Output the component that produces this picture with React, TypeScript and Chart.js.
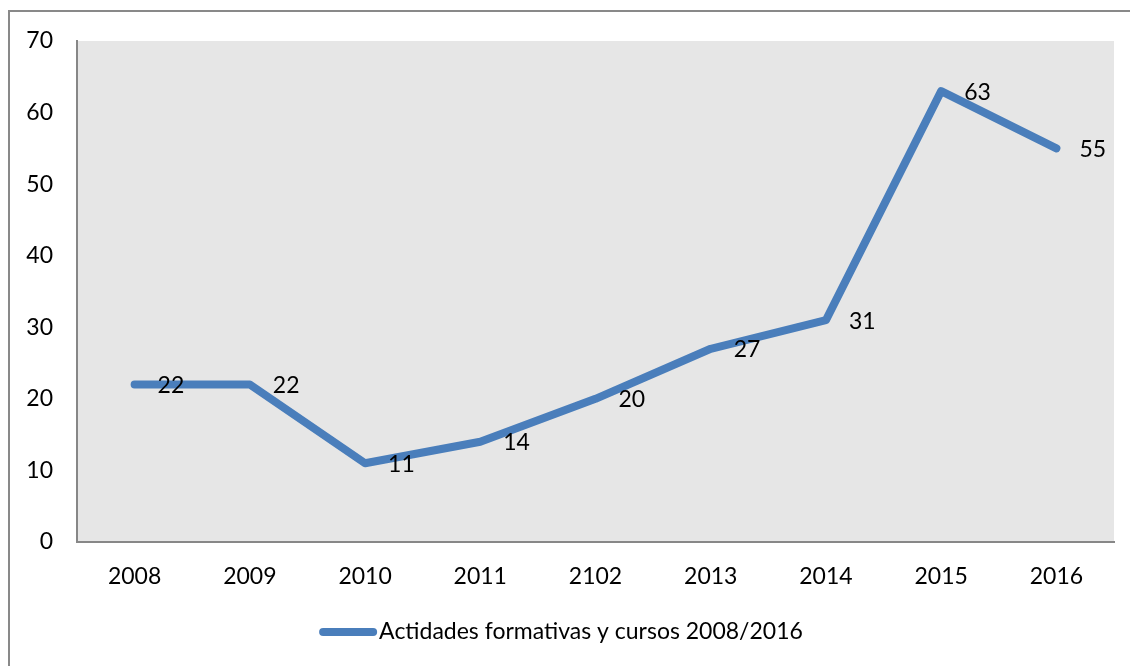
import React, { useEffect, useRef } from "react";
import { Chart, registerables } from "chart.js";

Chart.register(...registerables);

const categories = ["2008", "2009", "2010", "2011", "2102", "2013", "2014", "2015", "2016"];
const values = [22, 22, 11, 14, 20, 27, 31, 63, 55];
const seriesName = "Actidades formativas y cursos 2008/2016";

const FONT = "Lato";
const FONT_SIZE = 23;
const LINE_COLOR = "#4a7ebb";

const bgPlugin = {
  id: "plotBg",
  beforeDraw(chart: any) {
    const { ctx, chartArea } = chart;
    ctx.save();
    ctx.fillStyle = "#e6e6e6";
    ctx.fillRect(chartArea.left, chartArea.top, chartArea.right - chartArea.left, chartArea.bottom - chartArea.top);
    ctx.restore();
  },
};

const labelPlugin = {
  id: "valueLabels",
  afterDatasetsDraw(chart: any) {
    const { ctx } = chart;
    const meta = chart.getDatasetMeta(0);
    ctx.save();
    ctx.font = `${FONT_SIZE}px ${FONT}`;
    ctx.fillStyle = "#000";
    ctx.textAlign = "left";
    ctx.textBaseline = "middle";
    meta.data.forEach((pt: any, i: number) => {
      ctx.fillText(String(values[i]), pt.x + 23, pt.y + 1);
    });
    ctx.restore();
  },
};

const legendPlugin = {
  id: "customLegend",
  afterDraw(chart: any) {
    const { ctx } = chart;
    ctx.save();
    ctx.font = `${FONT_SIZE}px ${FONT}`;
    const tw = ctx.measureText(seriesName).width;
    const lineLen = 58;
    const gap = 2;
    const total = lineLen + gap + tw;
    const startX = (chart.width - total) / 2 - 4;
    const y = 632;
    ctx.strokeStyle = LINE_COLOR;
    ctx.lineWidth = 8;
    ctx.lineCap = "round";
    ctx.beginPath();
    ctx.moveTo(startX + 4, y);
    ctx.lineTo(startX + lineLen - 4, y);
    ctx.stroke();
    ctx.fillStyle = "#000";
    ctx.textAlign = "left";
    ctx.textBaseline = "middle";
    ctx.fillText(seriesName, startX + lineLen + gap, y);
    ctx.restore();
  },
};

export default function App() {
  const ref = useRef<HTMLCanvasElement | null>(null);

  useEffect(() => {
    document.body.style.overflow = "hidden";
    if (!ref.current) return;
    const chart = new Chart(ref.current, {
      type: "line",
      data: {
        labels: categories,
        datasets: [
          {
            label: seriesName,
            data: values,
            borderColor: LINE_COLOR,
            backgroundColor: LINE_COLOR,
            borderWidth: 8,
            borderCapStyle: "round",
            borderJoinStyle: "round",
            pointRadius: 0,
            pointHoverRadius: 0,
            tension: 0,
          },
        ],
      },
      options: {
        animation: false,
        responsive: false,
        maintainAspectRatio: false,
        layout: { padding: { left: 0, top: 41, right: 16, bottom: 0 } },
        plugins: {
          legend: { display: false },
          tooltip: { enabled: false },
        },
        scales: {
          x: {
            offset: true,
            grid: { display: false, drawTicks: false },
            border: { display: true, color: "#878787", width: 2 },
            ticks: {
              color: "#000",
              font: { family: FONT, size: FONT_SIZE },
              padding: 21,
              maxRotation: 0,
            },
            afterFit(scale: any) {
              scale.height = 124;
            },
          },
          y: {
            min: 0,
            max: 70,
            grid: { display: false, drawTicks: false },
            border: { display: true, color: "#878787", width: 2 },
            ticks: {
              stepSize: 10,
              color: "#000",
              font: { family: FONT, size: FONT_SIZE },
              padding: 24,
            },
            afterFit(scale: any) {
              scale.width = 77;
            },
          },
        },
      },
      plugins: [bgPlugin, labelPlugin, legendPlugin],
    });
    return () => chart.destroy();
  }, []);

  return (
    <div style={{ position: "fixed", left: 0, top: 0, width: 1130, height: 666, overflow: "hidden", background: "#fff" }}>
      <div
        style={{
          position: "absolute",
          left: 8,
          top: 10,
          width: 1200,
          height: 800,
          border: "2px solid #898989",
          boxSizing: "border-box",
        }}
      />
      <canvas ref={ref} width={1130} height={666} style={{ position: "absolute", left: 0, top: 0, width: 1130, height: 666 }} />
    </div>
  );
}
